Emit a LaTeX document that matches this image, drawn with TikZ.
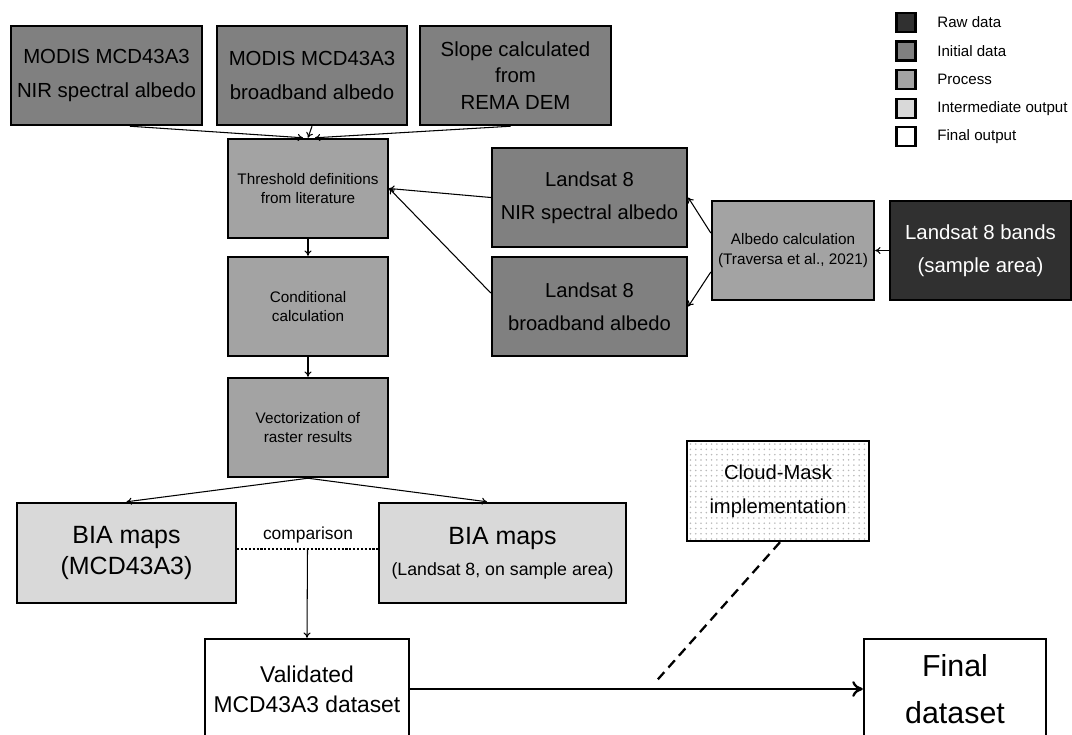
\documentclass[tikz,border=0pt]{standalone}
\usepackage{fontspec}
\setmainfont{Liberation Sans}
\usetikzlibrary{patterns,arrows.meta}

\definecolor{rawgray}{gray}{0.19}
\definecolor{initgray}{gray}{0.50}
\definecolor{procgray}{gray}{0.64}
\definecolor{midgray}{gray}{0.85}

\tikzset{
  box/.style={draw=black, line width=1.4pt, align=center, inner sep=0pt, minimum height=1.98cm},
  rawbox/.style={box, fill=rawgray, text=white},
  initbox/.style={box, fill=initgray},
  procbox/.style={box, fill=procgray},
  midbox/.style={box, fill=midgray},
  finbox/.style={box, fill=white},
  legbox/.style={draw=black, line width=1.4pt, minimum size=0.38cm, inner sep=0pt},
  legtext/.style={anchor=west, inner sep=0pt, font=\fontsize{8.6}{10}\selectfont},
  link/.style={line width=0.6pt, -{To[length=3pt,width=4pt]}},
}

\begin{document}
\begin{tikzpicture}[x=0.02cm, y=-0.02cm]
\useasboundingbox (0,0) rectangle (1072,734);

% legend
\node[legbox, fill=rawgray] (lg1) at (906,22.5) {};
\node[legbox, fill=initgray] (lg2) at (906,51) {};
\node[legbox, fill=procgray] (lg3) at (906,79.5) {};
\node[legbox, fill=midgray] (lg4) at (906,108.5) {};
\node[legbox, fill=white] (lg5) at (906,136.5) {};
\node[legtext] (lt1) at (937,22.5) {Raw data};
\node[legtext] (lt2) at (937,51) {Initial data};
\node[legtext] (lt3) at (937,79.5) {Process};
\node[legtext] (lt4) at (937,108.5) {Intermediate output};
\node[legtext] (lt5) at (937,136.5) {Final output};

% initial data
\node[initbox, minimum width=3.82cm, font=\fontsize{11.6}{19}\selectfont] (modisnir) at (106.5,75.5) {MODIS MCD43A3\\NIR spectral albedo};
\node[initbox, minimum width=3.8cm, font=\fontsize{11.6}{19}\selectfont] (modisbb) at (312,75.5) {MODIS MCD43A3\\broadband albedo};
\node[initbox, minimum width=3.82cm, font=\fontsize{11.6}{15}\selectfont] (slope) at (515.5,75.5) {Slope calculated\\from\\REMA DEM};
\node[initbox, minimum width=3.9cm, font=\fontsize{11.5}{19}\selectfont] (lsnir) at (589.5,197.5) {Landsat 8\\NIR spectral albedo};
\node[initbox, minimum width=3.9cm, font=\fontsize{11.5}{19}\selectfont] (lsbb) at (589.5,306.5) {Landsat 8\\broadband albedo};

% raw data
\node[rawbox, minimum width=3.62cm, font=\fontsize{11.6}{19}\selectfont] (lsbands) at (980.5,250.5) {Landsat 8 bands\\(sample area)};

% processes
\node[procbox, minimum width=3.2cm, font=\fontsize{8.7}{11.3}\selectfont] (thresh) at (308,188.5) {Threshold definitions\\from literature};
\node[procbox, minimum width=3.2cm, font=\fontsize{8.7}{11.3}\selectfont] (cond) at (308,306.5) {Conditional\\calculation};
\node[procbox, minimum width=3.2cm, font=\fontsize{8.7}{11.3}\selectfont] (vect) at (308,427.5) {Vectorization of\\raster results};
\node[procbox, minimum width=3.24cm, font=\fontsize{8.7}{11.3}\selectfont] (albcalc) at (793,250.5) {Albedo calculation\\(Traversa et al., 2021)};

% intermediate outputs
\node[midbox, minimum width=4.38cm, minimum height=2cm, font=\fontsize{14.2}{17.7}\selectfont] (bia1) at (126.5,553) {BIA maps\\(MCD43A3)};
\node[midbox, minimum width=4.94cm, minimum height=2cm, font=\fontsize{14.2}{17.7}\selectfont] (bia2) at (502.5,553) {BIA maps\\{\fontsize{10.1}{12}\selectfont (Landsat 8, on sample area)}};

% final outputs
\node[finbox, minimum width=4.08cm, minimum height=2cm, font=\fontsize{13}{17}\selectfont] (valid) at (307,689) {Validated\\MCD43A3 dataset};
\node[finbox, minimum width=3.64cm, minimum height=2cm, font=\fontsize{17.3}{27}\selectfont] (final) at (955,689) {Final\\dataset};
\node[box, pattern=dots, pattern color=gray!55, minimum width=3.64cm, minimum height=2cm, font=\fontsize{11.5}{19.5}\selectfont] (cloud) at (778,491) {Cloud-Mask\\implementation};

% connectors
\draw[link] ([xshift=0.47cm]modisnir.south) -- ([xshift=-0.1cm]thresh.north);
\draw[link] (modisbb.south) -- (thresh.north);
\draw[link] ([xshift=-0.1cm]slope.south) -- ([xshift=0.14cm]thresh.north);
\draw[link] (lsnir.west) -- (thresh.east);
\draw[link] ([yshift=0.27cm]lsbb.west) -- (thresh.east);
\draw[link] ([yshift=0.35cm]albcalc.west) -- (lsnir.east);
\draw[link] ([yshift=-0.43cm]albcalc.west) -- (lsbb.east);
\draw[link] (lsbands.west) -- (albcalc.east);
\draw[link] (thresh.south) -- (cond.north);
\draw[link] (cond.south) -- (vect.north);
\draw[link] (vect.south) -- (bia1.north);
\draw[link] (vect.south) -- ([xshift=-0.31cm]bia2.north);

% comparison
\draw[line width=1.3pt, dash pattern=on 1.2pt off 1pt] ([yshift=0.08cm]bia1.east) -- coordinate[pos=0.5] (cmp) ([yshift=0.08cm]bia2.west);
\node[font=\fontsize{9.9}{12}\selectfont] (cmplabel) at (308,535) {comparison};
\draw[link] (cmp) -- (valid.north);

% to final dataset
\draw[line width=1.3pt, -{To[length=6pt,width=9pt]}] (valid.east) -- coordinate[pos=0.54] (mj) (final.west);
\draw[line width=1.3pt, dash pattern=on 5.5pt off 3.5pt] ([xshift=0.04cm]cloud.south) -- ([yshift=0.12cm]mj);
\end{tikzpicture}
\end{document}
